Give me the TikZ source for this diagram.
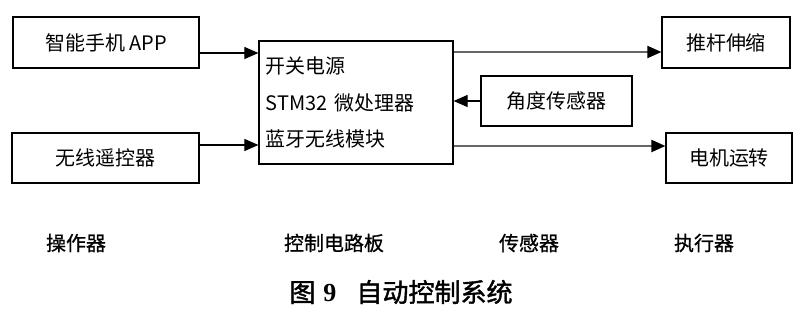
\documentclass[tikz,border=0pt]{standalone}
\usepackage{fontspec}
\newfontfamily\cjk{Noto Sans CJK SC}
\newfontfamily\cjkbold[FakeBold=0.8]{Noto Sans CJK SC}
\newfontfamily\cjkcap[FakeBold=1.5]{Noto Sans CJK SC}
\newfontfamily\capnum{Liberation Serif}
\usetikzlibrary{arrows.meta}

\begin{document}
\begin{tikzpicture}[x=0.025cm, y=-0.025cm,
    box/.style={rectangle, draw, line width=0.8pt, inner sep=0pt, font=\cjk\fontsize{14.2}{17}\selectfont},
    board/.style={box, inner xsep=0.175cm, text width=4.5cm, align=left, minimum width=4.85cm, minimum height=3.075cm, font=\cjk\fontsize{14.2}{26}\selectfont},
    layer/.style={font=\cjkbold\fontsize{14.2}{17}\selectfont},
    arrow/.style={-{Triangle[length=0.35cm,width=0.3cm]}, line width=0.8pt},
    outarrow/.style={-{Triangle[length=0.35cm,width=0.3cm,color=black]}, draw=black!60, line width=1.4pt}
]
    \useasboundingbox (0,0) rectangle (800,315);

    \node[box, minimum width=4.65cm, minimum height=1.275cm] (app) at (106,42.5) {智能手机 APP};
    \node[box, minimum width=4.675cm, minimum height=1.25cm] (remote) at (105.5,158) {无线遥控器};
    \node[board] (ctrl) at (356,102.5) {开关电源\\STM32 微处理器\\蓝牙无线模块};

    \node[box, minimum width=3.775cm, minimum height=1.25cm] (angle) at (556.5,101) {角度传感器};
    \node[box, minimum width=3.2cm, minimum height=1.275cm] (push) at (726,42.5) {推杆伸缩};
    \node[box, minimum width=3.15cm, minimum height=1.25cm] (motor) at (729,158) {电机运转};

    \node[layer] (opr) at (76,243) {操作器};
    \node[layer] (brd) at (334,243) {控制电路板};
    \node[layer] (sns) at (529,243) {传感器};
    \node[layer] (act) at (704,243) {执行器};

    \node[font=\cjkcap\fontsize{18.5}{20}\selectfont] (caption) at (401,292) {图\hspace{0.2cm}{\capnum\bfseries 9}\hspace{0.5cm}自动控制系统};

    \draw[arrow] (app.east |- 0,53) -- (ctrl.west |- 0,53);
    \draw[arrow] (remote.east |- 0,145) -- (ctrl.west |- 0,145);
    \draw[arrow] (angle.west) -- (angle.west -| ctrl.east);
    \draw[outarrow] (ctrl.east |- 0,52) -- (push.west |- 0,52);
    \draw[outarrow] (ctrl.east |- 0,146) -- (motor.west |- 0,146);
\end{tikzpicture}
\end{document}
